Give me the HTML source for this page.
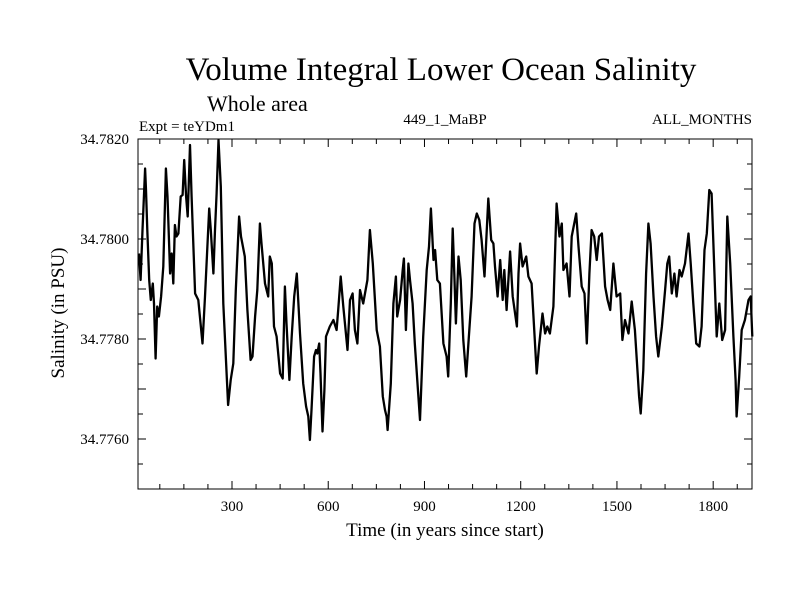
<!DOCTYPE html>
<html><head><meta charset="utf-8"><style>
body{margin:0;background:#fff}
svg text{font-family:"Liberation Serif",serif;fill:#000}
</style></head><body>
<svg id="chart" width="800" height="600" viewBox="0 0 800 600" xmlns="http://www.w3.org/2000/svg">
<rect width="800" height="600" fill="#fff"/>
<text x="441" y="80" font-size="33" text-anchor="middle">Volume Integral Lower Ocean Salinity</text>
<text x="207" y="111" font-size="22">Whole area</text>
<text x="139" y="131" font-size="15">Expt = teYDm1</text>
<text x="445" y="124" font-size="15" text-anchor="middle">449_1_MaBP</text>
<text x="752" y="124" font-size="15" text-anchor="end">ALL_MONTHS</text>
<text transform="translate(64,313) rotate(-90)" font-size="19" text-anchor="middle">Salinity (in PSU)</text>
<text x="445" y="536" font-size="19" text-anchor="middle">Time (in years since start)</text>
<g id="axes"></g>
<path id="series" fill="none" stroke="#000" stroke-width="2.3" stroke-linejoin="round"/>
<rect x="138" y="139" width="614" height="350" fill="none" stroke="#000" stroke-width="1"/>
</svg>
<script>
const years=[10,15,21,29,32,36,42,47,53,57,62,67,72,79,86,94,99,107,112,117,122,127,133,140,146,151,157,162,169,174,185,195,208,216,229,234,242,247,252,258,265,273,288,296,304,312,322,328,340,348,358,364,372,379,387,392,403,413,418,424,431,439,450,458,465,470,479,486,494,502,512,522,531,538,543,548,556,562,566,572,576,582,588,593,605,616,626,631,639,647,660,668,676,683,691,699,709,722,730,739,751,761,770,777,782,785,795,803,811,815,824,832,836,842,850,855,863,870,879,886,896,907,914,920,928,933,940,948,959,969,974,982,988,993,998,1006,1013,1021,1030,1037,1047,1056,1063,1071,1078,1087,1099,1108,1115,1120,1128,1136,1144,1149,1156,1167,1175,1188,1193,1198,1206,1217,1224,1234,1250,1257,1268,1276,1283,1291,1302,1312,1321,1328,1333,1343,1352,1359,1373,1380,1390,1399,1406,1414,1421,1429,1437,1444,1453,1463,1471,1479,1489,1499,1510,1517,1525,1536,1546,1556,1569,1574,1582,1591,1598,1605,1614,1622,1629,1640,1650,1657,1663,1671,1679,1686,1695,1702,1712,1723,1730,1738,1747,1757,1764,1773,1780,1788,1795,1803,1811,1819,1828,1837,1844,1853,1863,1870,1873,1881,1889,1899,1910,1917,1922];
const salinity=[34.77971,34.77918,34.78018,34.78141,34.78098,34.78018,34.77918,34.77878,34.77911,34.77871,34.77761,34.77865,34.77845,34.77885,34.77945,34.78141,34.78085,34.77931,34.77971,34.77911,34.78028,34.78005,34.78011,34.78085,34.78088,34.78158,34.78085,34.78045,34.78188,34.78085,34.77891,34.77878,34.77791,34.77885,34.78061,34.78018,34.77931,34.78018,34.78091,34.78198,34.78105,34.77871,34.77668,34.77718,34.77751,34.77898,34.78045,34.78005,34.77965,34.77858,34.77758,34.77765,34.77845,34.77898,34.78031,34.77991,34.77911,34.77885,34.77965,34.77951,34.77825,34.77805,34.77731,34.77721,34.77905,34.77831,34.77718,34.77805,34.77885,34.77931,34.77811,34.77711,34.77665,34.77645,34.77598,34.77658,34.77765,34.77778,34.77771,34.77791,34.77731,34.77615,34.77698,34.77805,34.77825,34.77838,34.77818,34.77858,34.77925,34.77865,34.77778,34.77878,34.77891,34.77818,34.77791,34.77898,34.77871,34.77918,34.78018,34.77951,34.77818,34.77785,34.77685,34.77658,34.77645,34.77618,34.77711,34.77871,34.77925,34.77845,34.77878,34.77938,34.77961,34.77818,34.77951,34.77918,34.77871,34.77791,34.77705,34.77638,34.77805,34.77938,34.77985,34.78061,34.77958,34.77978,34.77918,34.77911,34.77791,34.77765,34.77725,34.77871,34.78021,34.77931,34.77831,34.77965,34.77918,34.77798,34.77725,34.77791,34.77885,34.78031,34.78051,34.78038,34.77998,34.77925,34.78081,34.77998,34.77991,34.77945,34.77885,34.77958,34.77878,34.77938,34.77858,34.77975,34.77885,34.77825,34.77931,34.77991,34.77945,34.77965,34.77925,34.77911,34.77731,34.77785,34.77851,34.77811,34.77825,34.77811,34.77865,34.78071,34.78005,34.78031,34.77938,34.77951,34.77885,34.78005,34.78051,34.77985,34.77905,34.77891,34.77791,34.77931,34.78018,34.78005,34.77958,34.78005,34.78011,34.77905,34.77878,34.77858,34.77951,34.77885,34.77891,34.77798,34.77838,34.77811,34.77875,34.77818,34.77685,34.77651,34.77738,34.77931,34.78031,34.77991,34.77885,34.77805,34.77765,34.77825,34.77898,34.77951,34.77965,34.77891,34.77931,34.77885,34.77938,34.77925,34.77951,34.78011,34.77951,34.77871,34.77791,34.77785,34.77825,34.77978,34.78011,34.78098,34.78091,34.77951,34.77805,34.77871,34.77798,34.77818,34.78045,34.77951,34.77805,34.77718,34.77645,34.77725,34.77818,34.77838,34.77878,34.77885,34.77805];
const xTickLabels=[300,600,900,1200,1500,1800];
const yTickLabels=["34.7760","34.7780","34.7800","34.7820"];
const X0=138,X1=752,Y0=489,Y1=139,XMIN=7,XMAX=1921,YMIN=34.775,YMAX=34.782;
function sx(v){return X0+(v-XMIN)/(XMAX-XMIN)*(X1-X0);}
function sy(v){return Y0-(v-YMIN)/(YMAX-YMIN)*(Y0-Y1);}
const NS="http://www.w3.org/2000/svg";
const axes=document.getElementById('axes');
function line(x1,y1,x2,y2,name){const l=document.createElementNS(NS,'line');l.setAttribute('x1',x1);l.setAttribute('y1',y1);l.setAttribute('x2',x2);l.setAttribute('y2',y2);l.setAttribute('stroke','#000');l.setAttribute('stroke-width','1');


axes.appendChild(l);}
for(let v=75;v<=XMAX;v+=75){const x=sx(v);const L=(v%300===0)?8:5;line(x,Y0,x,Y0-L,'x-tick');line(x,Y1,x,Y1+L,'x-tick-top');}
for(let i=0;i<=14;i++){const v=YMIN+i*0.0005;const y=sy(v);const L=(i%2===0)?8:5;line(X0,y,X0+L,y,'y-tick');line(X1,y,X1-L,y,'y-tick-right');}
xTickLabels.forEach(v=>{const t=document.createElementNS(NS,'text');t.setAttribute('x',sx(v));t.setAttribute('y',511);t.setAttribute('font-size','15');t.setAttribute('text-anchor','middle');t.textContent=v;


axes.appendChild(t);});
yTickLabels.forEach(s=>{const t=document.createElementNS(NS,'text');t.setAttribute('x',129);t.setAttribute('y',sy(parseFloat(s))+5);t.setAttribute('font-size','15');t.setAttribute('text-anchor','end');t.textContent=s;


axes.appendChild(t);});
let d='';years.forEach((yr,i)=>{d+=(i?'L':'M')+sx(yr).toFixed(1)+','+sy(salinity[i]).toFixed(1);});
document.getElementById('series').setAttribute('d',d);
</script>
</body></html>
